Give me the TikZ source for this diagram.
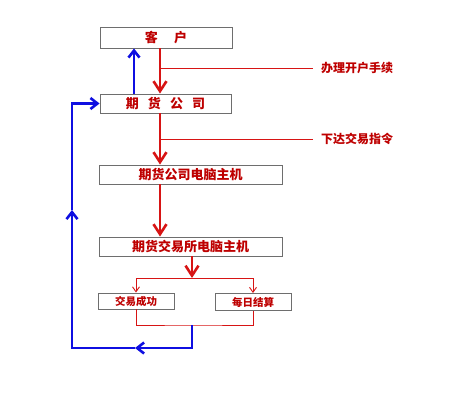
\documentclass[tikz,border=0pt]{standalone}
\usepackage{fontspec}
\setmainfont{Noto Sans CJK SC}
\usetikzlibrary{arrows.meta,positioning}
\definecolor{boxred}{RGB}{190,0,0}
\definecolor{flowred}{RGB}{215,20,20}
\definecolor{backblue}{RGB}{15,15,225}
\definecolor{boxgray}{RGB}{110,110,110}

\begin{document}
\begin{tikzpicture}[x=1pt,y=-1pt,
  box/.style={draw=boxgray,fill=white,line width=0.9pt,inner sep=0pt,
              font=\fontsize{13}{15}\selectfont\bfseries,text=boxred},
  note/.style={font=\fontsize{12}{14}\selectfont\bfseries,text=boxred,
               anchor=west,inner xsep=8pt,inner ysep=0pt},
  rarr/.style={-{Straight Barb[length=10pt,width=13pt]},line width=2.6pt,color=flowred},
  tarr/.style={-{Straight Barb[length=5pt,width=7pt]},line width=0.9pt,color=flowred},
  tline/.style={line width=0.9pt,color=flowred},
  barr/.style={-{Straight Barb[length=7pt,width=11pt]},line width=2.6pt,color=backblue}]
\useasboundingbox (0,0) rectangle (450,405);
% boxes
\node[box,minimum width=132pt,minimum height=21pt] (kh) at (166,37.5) {客\hspace{1.25em}户};
\node[box,minimum width=131pt,minimum height=19pt] (gs) at (165.5,103.5)
  {期\hspace{0.7em}货\hspace{0.7em}公\hspace{0.7em}司};
\node[box,minimum width=183pt,minimum height=19pt] (gspc) at (190.5,174.5) {期货公司电脑主机};
\node[box,minimum width=183pt,minimum height=19pt] (jys) at (190.5,246.5) {期货交易所电脑主机};
\node[box,minimum width=76pt,minimum height=16pt,font=\fontsize{10.5}{12}\selectfont\bfseries]
  (cg) at (136,301) {交易成功};
\node[box,minimum width=76pt,minimum height=17pt,font=\fontsize{10.5}{12}\selectfont\bfseries]
  (js) at (253,302) {每日结算};
% notes
\node[note] (lab1) at (313,68) {办理开户手续};
\node[note] (lab2) at (313,139) {下达交易指令};
\coordinate (d) at (160,0);
\coordinate (u) at (134,0);
\coordinate (t1) at (160,68);
\coordinate (t2) at (160,139);
% order flow
\draw[rarr] (kh.south -| d) -- (gs.north -| d);
\draw[rarr] (gs.south -| d) -- (gspc.north -| d);
\draw[rarr] (gspc.south -| d) -- (jys.north -| d);
\draw[tline] (t1) -- (lab1.west);
\draw[tline] (t2) -- (lab2.west);
\coordinate (j1) at (192,278);
\draw[rarr] (jys.south -| j1) -- (j1);
\draw[tarr] (j1) -| (cg.north);
\draw[tarr] (j1) -| (js.north);
% return flow
\coordinate (j2) at (192,325);
\coordinate (b1) at (135,348);
\coordinate (b2) at (72,210);
\draw[tline] (cg.south) |- (j2) -| (js.south);
\draw[barr] (j2) |- (b1);
\draw[barr] (b1) -| (b2);
\draw[barr] (b2) |- (gs.west);
\draw[barr] (gs.north -| u) -- (kh.south -| u);
\end{tikzpicture}
\end{document}
